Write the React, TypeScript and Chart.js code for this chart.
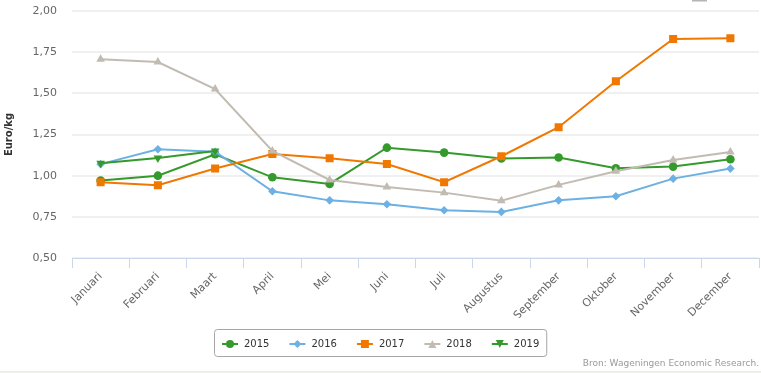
import React, { useEffect, useRef } from "react";
import { Chart, registerables } from "chart.js";

Chart.register(...registerables);

const months = ["Januari", "Februari", "Maart", "April", "Mei", "Juni", "Juli", "Augustus", "September", "Oktober", "November", "December"];
const years = ["2015", "2016", "2017", "2018", "2019"];
const v2015 = [0.97, 1.0, 1.13, 0.99, 0.95, 1.17, 1.14, 1.105, 1.11, 1.045, 1.055, 1.1];
const v2016 = [1.07, 1.16, 1.145, 0.905, 0.85, 0.826, 0.79, 0.78, 0.85, 0.875, 0.982, 1.043];
const v2017 = [0.96, 0.942, 1.043, 1.132, 1.106, 1.071, 0.96, 1.118, 1.294, 1.573, 1.83, 1.834];
const v2018 = [1.707, 1.69, 1.526, 1.15, 0.974, 0.931, 0.897, 0.848, 0.944, 1.027, 1.095, 1.144];
const v2019 = [1.075, 1.107, 1.15];
const yTicks = [0.5, 0.75, 1.0, 1.25, 1.5, 1.75, 2.0];
const yTitle = "Euro/kg";
const source = "Bron: Wageningen Economic Research.";

const colors = ["#359a2c", "#6cb0e4", "#f07800", "#c2bbb2", "#359a2c"];
const shapes = ["circle", "rectRot", "rect", "triangle", "triangleDown"];
const seriesValues = [v2015, v2016, v2017, v2018, v2019];

const FONT = "'DejaVu Sans', Verdana, sans-serif";

function drawMarker(ctx: CanvasRenderingContext2D, shape: string, x: number, y: number, color: string) {
  ctx.save();
  ctx.fillStyle = color;
  ctx.beginPath();
  if (shape === "circle") {
    ctx.arc(x, y, 4, 0, Math.PI * 2);
  } else if (shape === "rectRot") {
    ctx.moveTo(x, y - 4);
    ctx.lineTo(x + 4, y);
    ctx.lineTo(x, y + 4);
    ctx.lineTo(x - 4, y);
    ctx.closePath();
  } else if (shape === "rect") {
    ctx.rect(x - 4, y - 4, 8, 8);
  } else if (shape === "triangle") {
    ctx.moveTo(x, y - 4);
    ctx.lineTo(x + 4, y + 4);
    ctx.lineTo(x - 4, y + 4);
    ctx.closePath();
  } else {
    ctx.moveTo(x - 4, y - 4);
    ctx.lineTo(x + 4, y - 4);
    ctx.lineTo(x, y + 4);
    ctx.closePath();
  }
  ctx.fill();
  ctx.restore();
}

const extrasPlugin = {
  id: "extras",
  afterDraw(chart: any) {
    const ctx: CanvasRenderingContext2D = chart.ctx;
    const W = chart.width;
    ctx.save();
    // legend
    ctx.font = "10px " + FONT;
    const lineW = 16;
    const textGap = 6;
    const itemGap = 20;
    const widths = years.map((y) => ctx.measureText(y).width);
    let content = 0;
    widths.forEach((w, i) => {
      content += lineW + textGap + w + (i < widths.length - 1 ? itemGap : 0);
    });
    const padX = 7.5;
    const boxW = content + padX * 2;
    const boxX = Math.round((W - boxW) / 2) + 0.5;
    const boxY = 329.5;
    const boxH = 27;
    ctx.strokeStyle = "#a5a5a5";
    ctx.lineWidth = 1;
    ctx.beginPath();
    const r = 3;
    ctx.moveTo(boxX + r, boxY);
    ctx.lineTo(boxX + boxW - r, boxY);
    ctx.arcTo(boxX + boxW, boxY, boxX + boxW, boxY + r, r);
    ctx.lineTo(boxX + boxW, boxY + boxH - r);
    ctx.arcTo(boxX + boxW, boxY + boxH, boxX + boxW - r, boxY + boxH, r);
    ctx.lineTo(boxX + r, boxY + boxH);
    ctx.arcTo(boxX, boxY + boxH, boxX, boxY + boxH - r, r);
    ctx.lineTo(boxX, boxY + r);
    ctx.arcTo(boxX, boxY, boxX + r, boxY, r);
    ctx.closePath();
    ctx.stroke();
    let x = boxX + padX;
    const cy = 344;
    years.forEach((y, i) => {
      ctx.strokeStyle = colors[i];
      ctx.lineWidth = 2;
      ctx.beginPath();
      ctx.moveTo(x, cy);
      ctx.lineTo(x + lineW, cy);
      ctx.stroke();
      drawMarker(ctx, shapes[i], x + lineW / 2, cy, colors[i]);
      ctx.fillStyle = "#333333";
      ctx.textAlign = "left";
      ctx.textBaseline = "middle";
      ctx.fillText(y, x + lineW + textGap, cy + 0.5);
      x += lineW + textGap + widths[i] + itemGap;
    });
    // source
    ctx.font = "9px " + FONT;
    ctx.fillStyle = "#999999";
    ctx.textAlign = "right";
    ctx.textBaseline = "middle";
    ctx.fillText(source, W - 2, 364);
    // y title
    ctx.save();
    ctx.translate(9, (chart.chartArea.top + chart.chartArea.bottom) / 2);
    ctx.rotate(-Math.PI / 2);
    ctx.font = "bold 10px " + FONT;
    ctx.fillStyle = "#333333";
    ctx.textAlign = "center";
    ctx.textBaseline = "middle";
    ctx.fillText(yTitle, 0, 0);
    ctx.restore();
    // bottom band and export button hint
    ctx.fillStyle = "#efefea";
    ctx.fillRect(0, 371, W, 2);
    ctx.fillStyle = "#b5b5b5";
    ctx.fillRect(692, 0, 15, 1.5);
    ctx.restore();
  },
};

export default function App() {
  const ref = useRef<HTMLCanvasElement | null>(null);
  useEffect(() => {
    if (!ref.current) return;
    const datasets = years.map((y, i) => ({
      label: y,
      data: seriesValues[i],
      borderColor: colors[i],
      backgroundColor: colors[i],
      borderWidth: 2,
      pointStyle: shapes[i] === "triangleDown" ? "triangle" : shapes[i],
      pointRotation: shapes[i] === "triangleDown" ? 180 : 0,
      pointRadius: shapes[i] === "rect" ? 5.7 : shapes[i] === "triangle" || shapes[i] === "triangleDown" ? 5 : 4.3,
      pointBorderWidth: 0,
      tension: 0,
      order: years.length - i,
    }));
    const chart = new Chart(ref.current, {
      type: "line",
      data: { labels: months, datasets },
      options: {
        responsive: false,
        animation: false,
        devicePixelRatio: 1,
        layout: { autoPadding: false, padding: { top: 11, right: 2, bottom: 55, left: 0 } },
        plugins: { legend: { display: false }, tooltip: { enabled: false } },
        scales: {
          x: {
            offset: true,
            grid: { display: true, drawOnChartArea: false, drawTicks: true, tickLength: 10, color: "#ccd6eb", offset: true },
            border: { display: true, color: "#ccd6eb" },
            ticks: {
              autoSkip: false,
              maxRotation: 45,
              minRotation: 45,
              padding: 2,
              color: "#666666",
              font: { size: 11, family: FONT },
            },
            afterFit(scale: any) {
              scale.height = 60;
              scale.paddingLeft = 0;
              scale.paddingRight = 0;
            },
          },
          y: {
            min: yTicks[0],
            max: yTicks[yTicks.length - 1],
            afterBuildTicks(scale: any) {
              scale.ticks = yTicks.map((v) => ({ value: v }));
            },
            grid: { color: "#f0f0f0", lineWidth: 2, drawTicks: false },
            border: { display: false },
            ticks: {
              padding: 15,
              color: "#666666",
              font: { size: 11, family: FONT },
              callback: (v: any) => Number(v).toFixed(2).replace(".", ","),
            },
            afterFit(scale: any) {
              scale.width = 72;
              scale.paddingTop = 0;
              scale.paddingBottom = 0;
            },
          },
        },
      },
      plugins: [extrasPlugin],
    });
    return () => chart.destroy();
  }, []);
  return (
    <div style={{ position: "absolute", left: 0, top: 0, width: 761, height: 373, background: "#fff" }}>
      <canvas ref={ref} width={761} height={373} style={{ width: 761, height: 373, display: "block" }} />
    </div>
  );
}
